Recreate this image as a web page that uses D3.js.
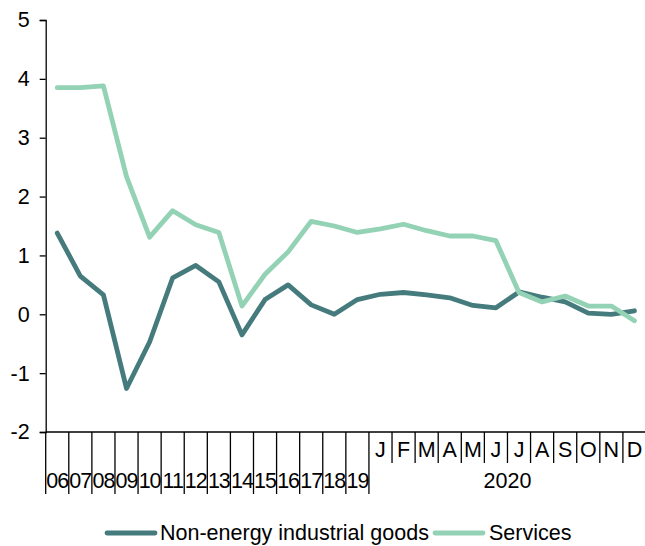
<!DOCTYPE html>
<html>
<head>
<meta charset="utf-8">
<script src="https://cdn.jsdelivr.net/npm/d3@7"></script>
<style>
  body { margin: 0; background: #fff; }
  svg text { font-family: "Liberation Sans", Arial, sans-serif; fill: #000; }
</style>
</head>
<body>
<svg id="chart" width="645" height="546"></svg>
<script>
// category labels: yearly averages, then months of 2020
const years = ["06","07","08","09","10","11","12","13","14","15","16","17","18","19"];
const months = ["J","F","M","A","M","J","J","A","S","O","N","D"];
const groupLabel = "2020";

// series values (% y/y)
const nonEnergy = [1.38, 0.65, 0.33, -1.26, -0.47, 0.62, 0.83, 0.55, -0.35, 0.25, 0.50, 0.16, 0.0,
                   0.25, 0.34, 0.37, 0.33, 0.28, 0.15, 0.11, 0.38, 0.29, 0.21, 0.02, 0.0, 0.06];
const services  = [3.85, 3.85, 3.88, 2.34, 1.31, 1.76, 1.52, 1.39, 0.14, 0.68, 1.06, 1.58, 1.50,
                   1.39, 1.45, 1.53, 1.42, 1.33, 1.33, 1.25, 0.37, 0.21, 0.31, 0.14, 0.14, -0.11];

const yTicks = [-2, -1, 0, 1, 2, 3, 4, 5];

const seriesList = [
    {name: "Non-energy industrial goods", values: nonEnergy, color: "#457b7d"},
    {name: "Services", values: services, color: "#94d2b5"}
];

const fontSize = "21.5px";

const svg = d3.select("#chart");

// all categories, one band each
const cats = years.map((d, i) => "y" + i).concat(months.map((d, i) => "m" + i));

const x = d3.scaleBand()
    .domain(cats)
    .range([45.7, 646])
    .padding(0);

const y = d3.scaleLinear()
    .domain([-2, 5])
    .range([432, 20]);

// y axis
const yAxis = svg.append("g")
    .attr("transform", "translate(45.7,0)")
    .call(d3.axisLeft(y).tickValues(yTicks).tickSize(6).tickFormat(d => String(d)));
yAxis.select(".domain").attr("stroke", "#000").attr("stroke-width", 1.3);
yAxis.selectAll(".tick line").attr("stroke", "#000").attr("stroke-width", 1.3);
yAxis.selectAll(".tick text")
    .attr("x", -16)
    .style("font-size", fontSize)
    .style("font-family", "'Liberation Sans', Arial, sans-serif")
    .attr("fill", "#000");

// x axis line
svg.append("line")
    .attr("x1", x.range()[0]).attr("x2", x.range()[1])
    .attr("y1", y(-2)).attr("y2", y(-2))
    .attr("stroke", "#000").attr("stroke-width", 1.3);

// separator ticks: long between years, short between months
const xg = svg.append("g");
cats.forEach((c, i) => {
    let isMonth = c[0] === "m";
    let long = !isMonth || i === years.length;
    xg.append("line")
        .attr("x1", x(c)).attr("x2", x(c))
        .attr("y1", y(-2))
        .attr("y2", long ? 494 : 463)
        .attr("stroke", "#000").attr("stroke-width", 1.3);
});

// year labels
xg.selectAll("text.year")
    .data(years)
    .enter()
    .append("text")
    .attr("class", "year")
    .attr("x", (d, i) => x("y" + i) + x.bandwidth() / 2)
    .attr("y", 488)
    .attr("text-anchor", "middle")
    .style("font-size", fontSize)
    .style("letter-spacing", "-1px")
    .text(d => d);

// month labels
xg.selectAll("text.month")
    .data(months)
    .enter()
    .append("text")
    .attr("class", "month")
    .attr("x", (d, i) => x("m" + i) + x.bandwidth() / 2)
    .attr("y", 457)
    .attr("text-anchor", "middle")
    .style("font-size", fontSize)
    .text(d => d);

// group label for the months
xg.append("text")
    .attr("x", (x("m0") + x.range()[1]) / 2)
    .attr("y", 488)
    .attr("text-anchor", "middle")
    .style("font-size", fontSize)
    .text(groupLabel);

// lines
const line = d3.line()
    .x((d, i) => x(cats[i]) + x.bandwidth() / 2)
    .y(d => y(d));

svg.append("g").selectAll("path")
    .data(seriesList)
    .enter()
    .append("path")
    .attr("d", d => line(d.values))
    .attr("fill", "none")
    .attr("stroke", d => d.color)
    .attr("stroke-width", 4.8)
    .attr("stroke-linejoin", "round")
    .attr("stroke-linecap", "round");

// legend
const legendPos = [{lx: 107, tx: 160}, {lx: 435, tx: 489}];
const legend = svg.append("g");
seriesList.forEach((s, i) => {
    legend.append("line")
        .attr("x1", legendPos[i].lx).attr("x2", legendPos[i].lx + 48)
        .attr("y1", 533).attr("y2", 533)
        .attr("stroke", s.color)
        .attr("stroke-width", 4.8)
        .attr("stroke-linecap", "round");
    legend.append("text")
        .attr("x", legendPos[i].tx)
        .attr("y", 540)
        .style("font-size", fontSize)
        .text(s.name);
});
</script>
</body>
</html>
